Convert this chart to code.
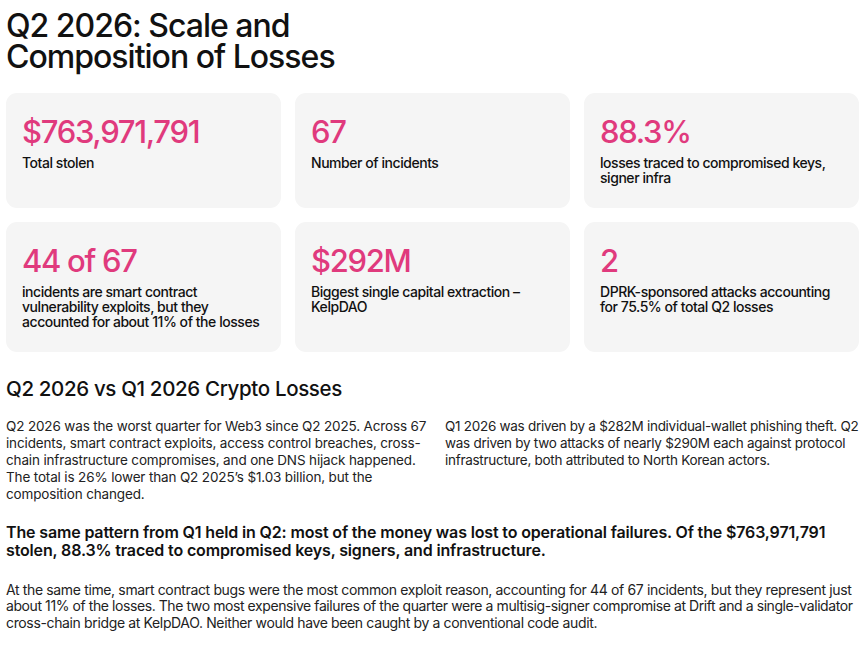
<!DOCTYPE html>
<html>
<head>
<meta charset="utf-8">
<script src="https://cdn.jsdelivr.net/npm/chart.js@4.4.1/dist/chart.umd.min.js"></script>
<style>
  html, body { margin:0; padding:0; background:#fff; }
  body { width:863px; height:645px; position:relative; overflow:hidden; font-family:Inter, "Noto Sans", sans-serif; color:#111; }
  .abs { position:absolute; white-space:nowrap; }
  .title { left:6px; font-size:32px; line-height:31px; font-weight:500; letter-spacing:-1px; }
  .card { position:absolute; width:275px; background:#f5f5f5; border-radius:11px; }
  .num { position:absolute; left:16px; top:22.5px; font-size:31px; line-height:31px; font-weight:500; color:#e03a7d; letter-spacing:-1.3px; white-space:nowrap; }
  .lbl { position:absolute; left:16px; top:62px; font-size:14px; line-height:15px; font-weight:500; letter-spacing:-0.45px; white-space:nowrap; }
  .h2 { left:6px; top:377px; font-size:20.5px; line-height:24px; font-weight:500; letter-spacing:-0.35px; }
  .body { font-size:13.5px; line-height:17px; font-weight:400; color:#222; letter-spacing:-0.15px; }
  .bold { left:6px; top:524px; font-size:16px; line-height:17.5px; font-weight:600; letter-spacing:-0.15px; }
  .last { left:6px; top:581.5px; font-size:14px; line-height:16.5px; font-weight:400; color:#222; letter-spacing:-0.36px; }
</style>
</head>
<body>
<div class="abs title" style="top:9.5px;">Q2 2026: Scale and</div>
<div class="abs title" style="top:40.5px;">Composition of Losses</div>
<div id="cards"></div>
<div class="abs h2">Q2 2026 vs Q1 2026 Crypto Losses</div>
<div class="abs body" style="left:6px;top:418px;">Q2 2026 was the worst quarter for Web3 since Q2 2025. Across 67<br>incidents, smart contract exploits, access control breaches, cross-<br>chain infrastructure compromises, and one DNS hijack happened.<br>The total is 26% lower than Q2 2025’s $1.03 billion, but the<br>composition changed.</div>
<div class="abs body" style="left:445px;top:418px;letter-spacing:-0.28px;">Q1 2026 was driven by a $282M individual-wallet phishing theft. Q2<br>was driven by two attacks of nearly $290M each against protocol<br>infrastructure, both attributed to North Korean actors.</div>
<div class="abs bold">The same pattern from Q1 held in Q2: most of the money was lost to operational failures. Of the $763,971,791<br>stolen, 88.3% traced to compromised keys, signers, and infrastructure.</div>
<div class="abs last">At the same time, smart contract bugs were the most common exploit reason, accounting for 44 of 67 incidents, but they represent just<br><span style="letter-spacing:-0.42px;">about 11% of the losses. The two most expensive failures of the quarter were a multisig-signer compromise at Drift and a single-validator</span><br>cross-chain bridge at KelpDAO. Neither would have been caught by a conventional code audit.</div>
<script>
const statValues = ["$763,971,791", "67", "88.3%", "44 of 67", "$292M", "2"];
const statLabels = [
  ["Total stolen"],
  ["Number of incidents"],
  ["losses traced to compromised keys,", "signer infra"],
  ["incidents are smart contract", "vulnerability exploits, but they", "accounted for about 11% of the losses"],
  ["Biggest single capital extraction –", "KelpDAO"],
  ["DPRK-sponsored attacks accounting", "for 75.5% of total Q2 losses"]
];
const colLeft = [6, 295, 584];
const rowTop = [93, 222];
const rowHeight = [115, 130];
const wrap = document.getElementById('cards');
statValues.forEach((v, i) => {
  const r = Math.floor(i / 3), c = i % 3;
  const card = document.createElement('div');
  card.className = 'card';
  card.style.left = colLeft[c] + 'px';
  card.style.top = rowTop[r] + 'px';
  card.style.height = rowHeight[r] + 'px';
  const n = document.createElement('div');
  n.className = 'num';
  n.textContent = v;
  card.appendChild(n);
  statLabels[i].forEach((t, k) => {
    const l = document.createElement('div');
    l.className = 'lbl';
    l.style.top = (62 + k * 15) + 'px';
    l.textContent = t;
    card.appendChild(l);
  });
  wrap.appendChild(card);
});
</script>
</body>
</html>
